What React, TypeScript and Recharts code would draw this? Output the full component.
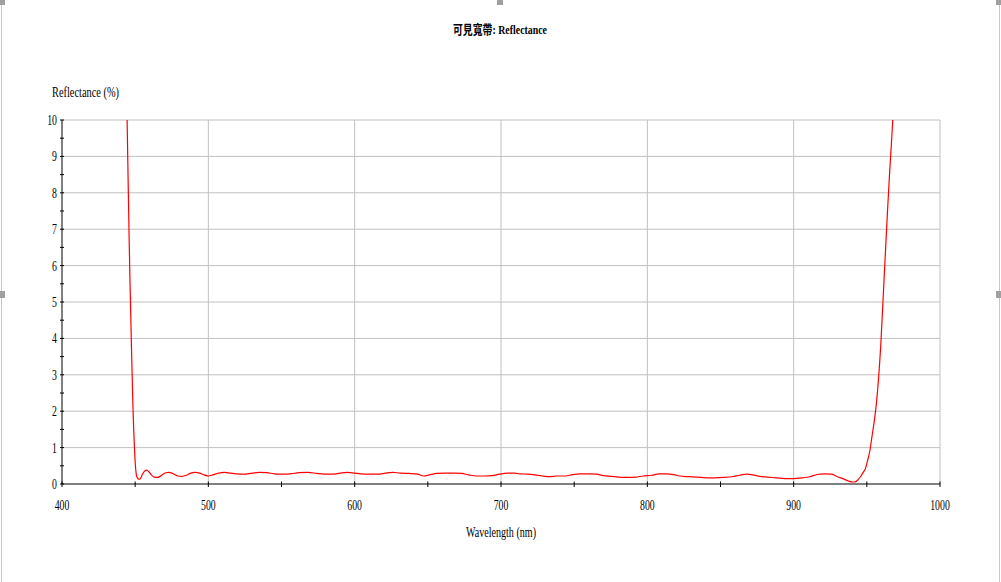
import { LineChart, Line, XAxis, YAxis, ReferenceLine } from 'recharts';

// wavelength (nm) and reflectance (%)
const wavelengths = [
  443.8, 444.5, 445, 445.5, 446, 446.5, 447, 447.5, 448, 448.5, 449, 449.5, 450, 450.5, 451, 452, 453, 454, 455,
  456.5, 458, 459.5, 461, 463, 465, 467, 469, 471, 473, 475, 477, 479, 482, 485, 488, 491, 494, 497, 500,
  503, 507, 511, 515, 519, 524, 530, 535, 540, 545, 550, 556, 562, 568, 574, 579, 585, 590, 595, 600,
  604, 610, 616, 621, 626, 631, 637, 643, 647, 651, 656, 662, 668, 673, 678, 683, 689, 694, 699,
  704, 709, 713, 718, 723, 728, 733, 738, 744, 749, 754, 760, 765, 770, 776, 780, 786, 792, 797,
  803, 808, 813, 818, 822, 828, 834, 840, 846, 852, 858, 863, 868, 872, 877, 882, 888, 894, 900,
  906, 911, 916, 921, 926, 930, 934, 937, 940, 942, 944, 946, 947.5, 949, 950.5, 952, 953.5, 955,
  956.5, 958, 959.5, 961, 962.5, 964, 965.5, 967, 968, 969,
];
const reflectance = [
  12, 10, 8.8, 7.6, 6.5, 5.5, 4.6, 3.7, 2.9, 2.1, 1.5, 1.0, 0.6, 0.35, 0.22, 0.14, 0.13, 0.18, 0.27,
  0.36, 0.38, 0.33, 0.25, 0.19, 0.18, 0.21, 0.27, 0.31, 0.32, 0.3, 0.26, 0.22, 0.21, 0.24, 0.3, 0.32, 0.3, 0.25, 0.22,
  0.25, 0.3, 0.32, 0.3, 0.28, 0.27, 0.3, 0.32, 0.31, 0.28, 0.27, 0.28, 0.31, 0.32, 0.29, 0.27, 0.27, 0.3, 0.32, 0.3,
  0.28, 0.27, 0.27, 0.3, 0.32, 0.3, 0.29, 0.27, 0.22, 0.25, 0.29, 0.3, 0.3, 0.29, 0.25, 0.22, 0.22, 0.23, 0.27,
  0.3, 0.3, 0.28, 0.27, 0.25, 0.22, 0.2, 0.22, 0.22, 0.26, 0.28, 0.28, 0.27, 0.23, 0.21, 0.19, 0.18, 0.19, 0.22,
  0.24, 0.28, 0.28, 0.26, 0.22, 0.2, 0.19, 0.17, 0.17, 0.18, 0.2, 0.24, 0.27, 0.25, 0.21, 0.19, 0.17, 0.15, 0.15,
  0.17, 0.2, 0.26, 0.28, 0.27, 0.2, 0.14, 0.09, 0.055, 0.06, 0.12, 0.22, 0.32, 0.42, 0.64, 0.9, 1.3, 1.7,
  2.2, 2.9, 3.8, 5.0, 6.2, 7.4, 8.5, 9.5, 10.2, 11,
];

const xTicks = [400, 450, 500, 550, 600, 650, 700, 750, 800, 850, 900, 950, 1000];
const xLabels = [400, 500, 600, 700, 800, 900, 1000];
const yTicks = [0, 0.5, 1, 1.5, 2, 2.5, 3, 3.5, 4, 4.5, 5, 5.5, 6, 6.5, 7, 7.5, 8, 8.5, 9, 9.5, 10];
const yLabels = [0, 1, 2, 3, 4, 5, 6, 7, 8, 9, 10];
const xGrid = [500, 600, 700, 800, 900, 1000];
const yGrid = [1, 2, 3, 4, 5, 6, 7, 8, 9, 10];

const data = wavelengths.map((wl, i) => ({ wl, r: reflectance[i] }));

const font = "'Liberation Serif', 'Noto Sans CJK TC', serif";

const XTick = (props: any) => {
  const { x, y, payload } = props;
  const v = payload.value;
  return (
    <g>
      <line x1={x} x2={x} y1={y - 2.5} y2={y + 3} stroke="#000" />
      {xLabels.includes(v) && (
        <text transform={`translate(${x},${y + 26}) scale(0.7,1)`} textAnchor="middle" fontSize={14} fontFamily={font} fill="#000">
          {v}
        </text>
      )}
    </g>
  );
};

const YTick = (props: any) => {
  const { x, y, payload } = props;
  const v = payload.value;
  return (
    <g>
      <line x1={x - 2} x2={x + 2} y1={y} y2={y} stroke="#000" />
      {yLabels.includes(v) && (
        <text transform={`translate(${x - 5},${y + 5}) scale(0.7,1)`} textAnchor="end" fontSize={14} fontFamily={font} fill="#000">
          {v}
        </text>
      )}
    </g>
  );
};

export default function App() {
  return (
    <div style={{ position: 'absolute', left: 0, top: 0, width: 1001, height: 582, background: '#fff' }}>
      <LineChart width={1001} height={582} data={data} margin={{ top: 120, right: 61, bottom: 97, left: 61 }}>
        {xGrid.map((v) => (
          <ReferenceLine key={'x' + v} x={v} stroke="#c0c0c0" />
        ))}
        {yGrid.map((v) => (
          <ReferenceLine key={'y' + v} y={v} stroke="#c0c0c0" />
        ))}
        <XAxis
          dataKey="wl"
          type="number"
          domain={[400, 1000]}
          ticks={xTicks}
          interval={0}
          height={1}
          tickSize={0}
          tickMargin={0}
          tickLine={false}
          tick={XTick}
          axisLine={{ stroke: '#000' }}
          allowDataOverflow
        />
        <YAxis
          type="number"
          domain={[0, 10]}
          ticks={yTicks}
          interval={0}
          width={1}
          tickSize={0}
          tickMargin={0}
          tickLine={false}
          tick={YTick}
          axisLine={{ stroke: '#000' }}
          allowDataOverflow
        />
        <Line dataKey="r" type="monotone" stroke="#ff0000" strokeWidth={1.2} dot={false} isAnimationActive={false} />
      </LineChart>
      <svg width={1001} height={582} style={{ position: 'absolute', left: 0, top: 0, pointerEvents: 'none' }}>
        <text x={453} y={34} fontSize={13} fontWeight="bold" fontFamily={font} textLength={94} lengthAdjust="spacingAndGlyphs">
          可見寬帶: Reflectance
        </text>
        <text x={52} y={97} fontSize={14} fontFamily={font} textLength={67} lengthAdjust="spacingAndGlyphs">
          Reflectance (%)
        </text>
        <text x={466} y={537} fontSize={14} fontFamily={font} textLength={70} lengthAdjust="spacingAndGlyphs">
          Wavelength (nm)
        </text>
        <line x1={1.5} x2={1.5} y1={5} y2={582} stroke="#c8c8c8" />
        <line x1={999.5} x2={999.5} y1={5} y2={582} stroke="#c8c8c8" />
        <rect x={0} y={0} width={5} height={5} fill="#a0a0a0" />
        <rect x={497} y={0} width={6} height={5} fill="#a0a0a0" />
        <rect x={996} y={0} width={5} height={5} fill="#a0a0a0" />
        <rect x={0} y={291} width={5} height={7} fill="#a0a0a0" />
        <rect x={996} y={291} width={5} height={7} fill="#a0a0a0" />
      </svg>
    </div>
  );
}
